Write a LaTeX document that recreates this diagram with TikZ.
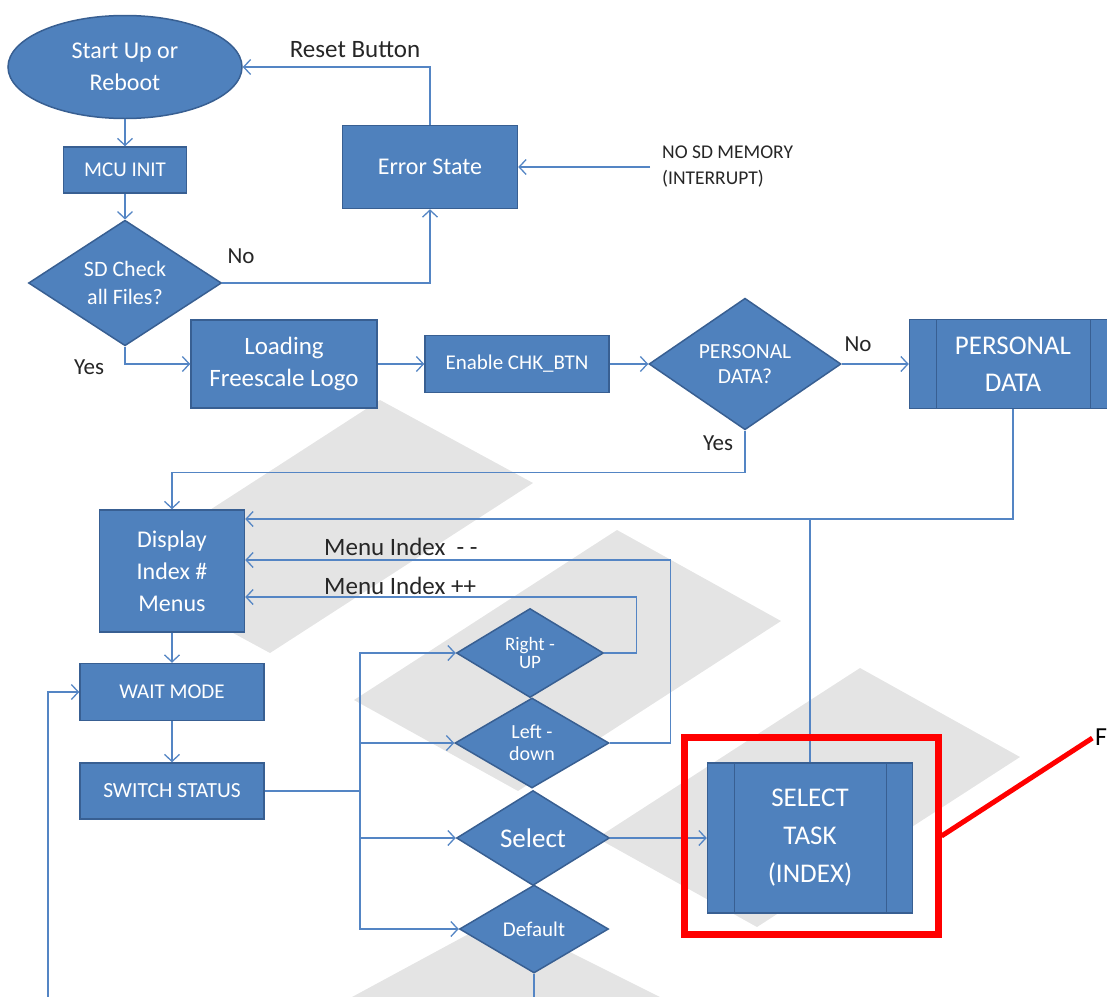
\documentclass[tikz,border=0pt]{standalone}
\usepackage{fontspec}
\setmainfont{Carlito}
\usetikzlibrary{shapes.geometric,arrows.meta}

\definecolor{boxfill}{HTML}{4F81BD}
\definecolor{boxline}{HTML}{385F92}
\definecolor{wirec}{HTML}{5485C4}
\definecolor{markc}{HTML}{E4E4E4}

\tikzset{
  blk/.style={draw=boxline, fill=boxfill, line width=1.5pt, text=white, inner sep=0pt, align=center},
  box/.style={blk, rectangle},
  dec/.style={blk, diamond},
  proc/.style={box, path picture={
      \draw[boxline, line width=1.5pt]
        ([xshift=27pt]path picture bounding box.south west) -- ([xshift=27pt]path picture bounding box.north west)
        ([xshift=-26pt]path picture bounding box.south east) -- ([xshift=-26pt]path picture bounding box.north east);}},
  wire/.style={draw=wirec, line width=1.3pt},
  conn/.style={wire, -{Straight Barb[length=7pt,width=15pt]}},
  lbl/.style={text=black!85, inner sep=0pt, font=\fontsize{23}{28}\selectfont}
}

\begin{document}
\begin{tikzpicture}[x=1pt,y=-1pt]
  \useasboundingbox (0,0) rectangle (1107,996);
  % watermark
  \fill[markc] (380,400) -- (533,483) -- (270,653) -- (117,570) -- cycle;
  \fill[markc] (617,530) -- (781,621) -- (518,791) -- (354,700) -- cycle;
  \fill[markc] (860,668) -- (1020,757) -- (757,927) -- (597,838) -- cycle;
  \fill[markc] (500,917) -- (700,1017) -- (315,1017) -- cycle;

  % top part
  \node[blk, ellipse, minimum width=234pt, minimum height=103pt, font=\fontsize{24}{32}\selectfont] (start) at (125,67) {Start Up or\\Reboot};
  \node[box, minimum width=123pt, minimum height=46pt, font=\fontsize{21}{25}\selectfont] (mcu) at (125,170) {MCU INIT};
  \node[dec, minimum width=193pt, minimum height=115pt, font=\fontsize{22}{28}\selectfont] (sdchk) at (125,283) {SD Check\\all Files?};
  \node[box, minimum width=175pt, minimum height=83pt, font=\fontsize{24}{29}\selectfont] (err) at (430,167) {Error State};
  \node[lbl, anchor=west, align=left, inner xsep=12pt, font=\fontsize{19.5}{26}\selectfont] (nosd) at (650,167) {NO SD MEMORY\\(INTERRUPT)};
  \node[box, minimum width=186pt, minimum height=88pt, font=\fontsize{25}{32}\selectfont] (load) at (284,364) {Loading\\Freescale Logo};
  \node[box, minimum width=184pt, minimum height=57pt, font=\fontsize{21}{25}\selectfont] (chk) at (517,364) {Enable CHK\_BTN};
  \node[dec, minimum width=192pt, minimum height=118pt, font=\fontsize{21.5}{25}\selectfont] (pdq) at (745,364) {PERSONAL\\DATA?};
  \node[proc, minimum width=207pt, minimum height=89pt, font=\fontsize{27}{37}\selectfont] (pdbox) at (1013,364) {PERSONAL\\DATA};

  % menu part
  \node[box, minimum width=145pt, minimum height=122pt, font=\fontsize{24}{32}\selectfont] (disp) at (172,571) {Display\\Index \#\\Menus};
  \node[box, minimum width=184pt, minimum height=57pt, font=\fontsize{21}{25}\selectfont] (wait) at (172,692) {WAIT MODE};
  \node[box, minimum width=184pt, minimum height=56pt, font=\fontsize{21.5}{25}\selectfont] (sw) at (172,791) {SWITCH STATUS};
  \node[dec, minimum width=147pt, minimum height=89pt, font=\fontsize{19}{18}\selectfont] (rup) at (530,653) {Right -\\UP};
  \node[dec, minimum width=154pt, minimum height=90pt, font=\fontsize{20}{22}\selectfont] (ldn) at (532,743) {Left -\\down};
  \node[dec, minimum width=153pt, minimum height=95pt, font=\fontsize{27}{32}\selectfont] (sel) at (533,838) {Select};
  \node[dec, minimum width=149pt, minimum height=88pt, font=\fontsize{21}{24}\selectfont] (dflt) at (534,929) {Default};
  \node[proc, minimum width=205pt, minimum height=150pt, font=\fontsize{27}{38}\selectfont] (task) at (810,838) {SELECT\\TASK\\(INDEX)};

  % labels
  \node[lbl, font=\fontsize{25}{30}\selectfont] (resetlbl) at (355,50) {Reset Button};
  \node[lbl] (nolbl) at (241,256) {No};
  \node[lbl] (yeslbl) at (89,367) {Yes};
  \node[lbl] (nopd) at (858,344) {No};
  \node[lbl] (yespd) at (718,443) {Yes};
  \node[lbl, anchor=west, font=\fontsize{25}{30}\selectfont] (decm) at (324,547) {Menu Index\ \ -\ -};
  \node[lbl, anchor=west, font=\fontsize{25}{30}\selectfont] (incm) at (324,586) {Menu Index ++};

  \coordinate (br) at (360,791);
  \coordinate (dfltout) at (534,1000);
  \coordinate (loopin) at (48,1000);

  % connectors
  \draw[conn] (start) -- (mcu);
  \draw[conn] (mcu) -- (sdchk);
  \draw[conn] (sdchk.east) -| (err.south);
  \draw[conn] (err.north) |- (start.east);
  \draw[conn] (nosd.west) -- (err.east);
  \draw[conn] (sdchk.south) |- (load.west);
  \draw[conn] (load) -- (chk);
  \draw[conn] (chk) -- (pdq);
  \draw[conn] (pdq) -- (pdbox);
  \draw[conn] (pdq.south) -- ++(0,42) -| (disp.north);
  \draw[conn] (pdbox.south) |- (disp.east |- 0,519);
  \draw[wire] (task.north) -- (task.north |- 0,519);
  \draw[conn] (ldn.east) -- ++(61,0) |- (disp.east |- 0,560);
  \draw[conn] (rup.east) -- ++(32,0) |- (disp.east |- 0,597);
  \draw[conn] (disp) -- (wait);
  \draw[conn] (wait) -- (sw);
  \draw[wire] (sw.east) -- (br);
  \foreach \d in {rup,ldn,sel,dflt}
    \draw[conn] (br) |- (\d.west);
  \draw[conn] (sel) -- (task);
  \draw[wire] (dflt.south) -- (dfltout);
  \draw[conn] (loopin) |- (wait.west);

  % highlight
  \node[draw=red, line width=7pt, minimum width=254pt, minimum height=197pt, inner sep=0pt] (hilite) at (811,836) {};
  \node[anchor=west, inner sep=1pt, font=\fontsize{26}{30}\selectfont] (fnote) at (1094,737) {F};
  \draw[red, line width=5pt, shorten >=2pt] (hilite.east) -- (fnote.west);
\end{tikzpicture}
\end{document}
